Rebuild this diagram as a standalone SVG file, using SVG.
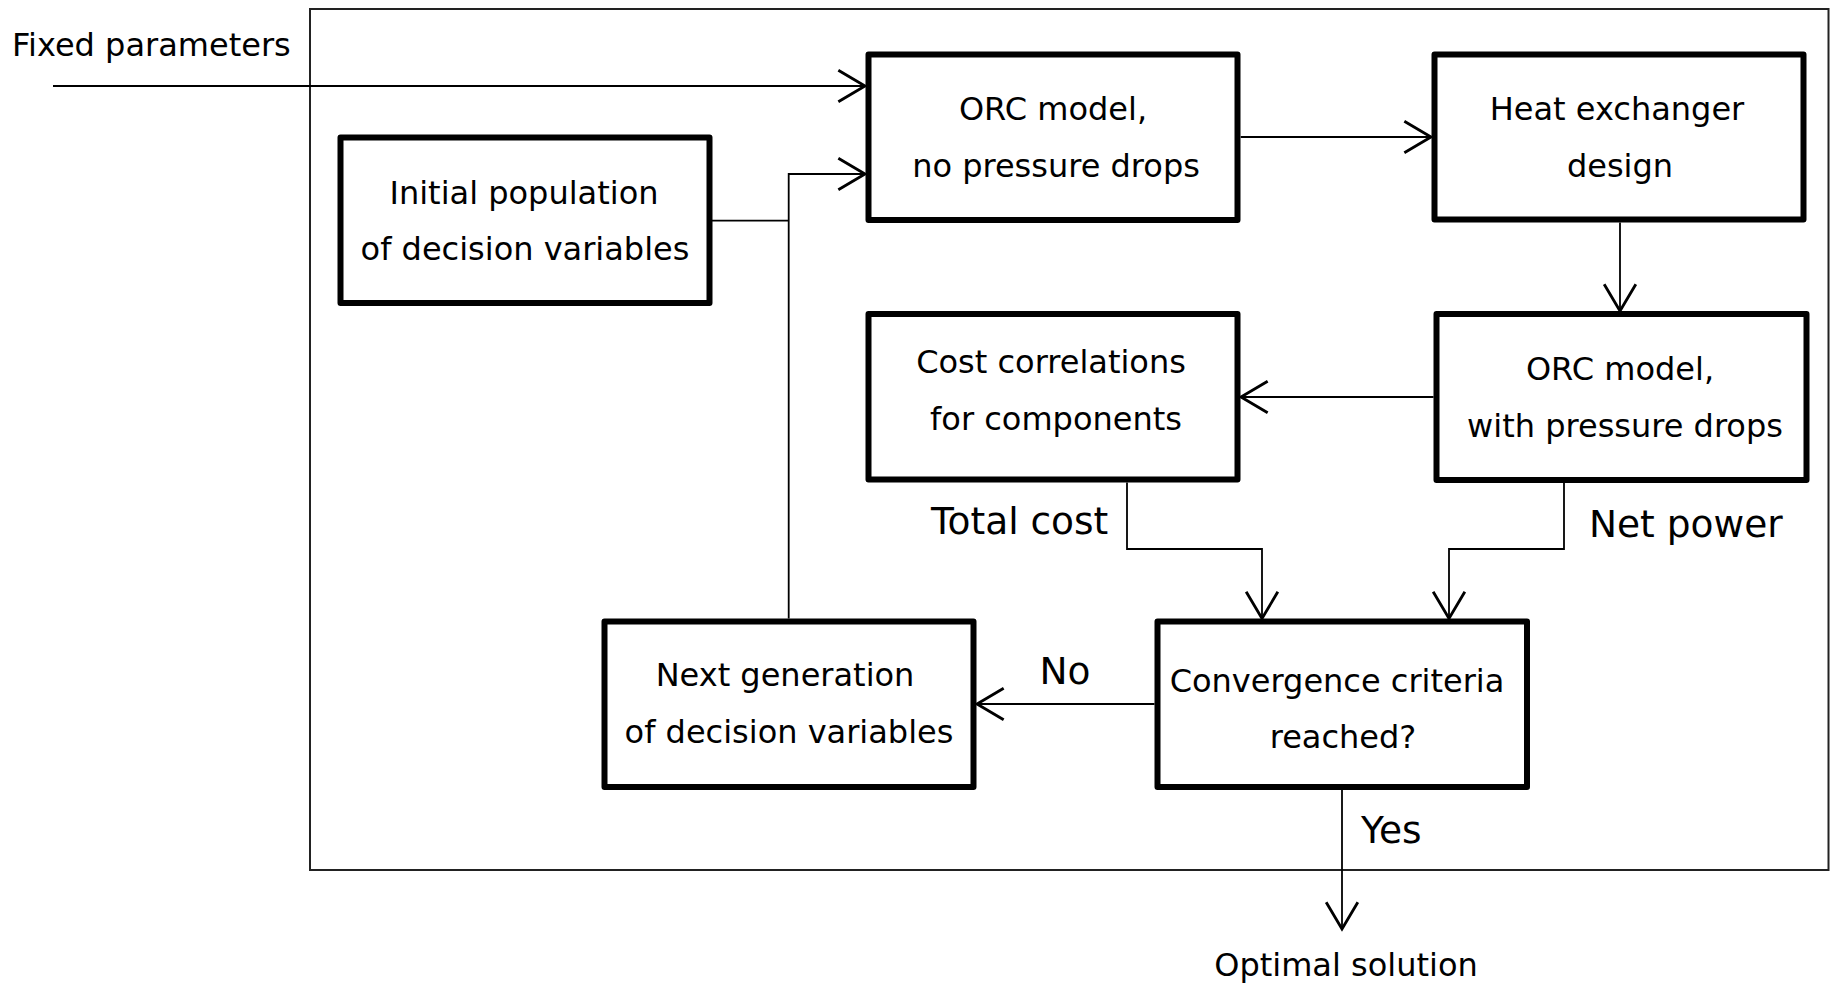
<svg xmlns="http://www.w3.org/2000/svg" width="1832" height="984" viewBox="0 0 1832 984">
<style>
.box{fill:#fff;stroke:#000;stroke-width:6;stroke-linejoin:round}
.t{font-family:"DejaVu Sans",Verdana,sans-serif;font-size:32px;fill:#000;text-anchor:middle}
.lbl{font-family:"DejaVu Sans",Verdana,sans-serif;font-size:37.5px;fill:#000}
.c{fill:none;stroke:#000;stroke-width:1.8}
</style>
<defs>
<marker id="arr" markerUnits="userSpaceOnUse" markerWidth="40" markerHeight="40" viewBox="-20 -12 22 24" refX="0" refY="0" orient="auto">
<path d="M-16,-9.5 L0,0 L-16,9.5" fill="none" stroke="#000" stroke-width="1.7"/>
</marker>
</defs>
<rect width="1832" height="984" fill="#fff"/>
<rect id="frame" x="310" y="9" width="1518.5" height="861" fill="none" stroke="#222" stroke-width="2"/>
<g id="connectors">
<path class="c" d="M53 86 H865" marker-end="url(#arr)"/>
<path class="c" d="M712 220.7 H788.7"/>
<path class="c" d="M788.7 618.5 V174 H865" marker-end="url(#arr)"/>
<path class="c" d="M1240.7 137 H1431" marker-end="url(#arr)"/>
<path class="c" d="M1620 222.5 V311" marker-end="url(#arr)"/>
<path class="c" d="M1433.5 397 H1241" marker-end="url(#arr)"/>
<path class="c" d="M1127 482.5 V549 H1262 V618.5" marker-end="url(#arr)"/>
<path class="c" d="M1564 483 V549 H1449 V618.5" marker-end="url(#arr)"/>
<path class="c" d="M1154.5 704 H977" marker-end="url(#arr)"/>
<path class="c" d="M1342 790 V929" marker-end="url(#arr)"/>
</g>
<g id="labels">
<text class="t" x="12" y="56" style="text-anchor:start">Fixed parameters</text>
<text class="lbl" x="931" y="534">Total cost</text>
<text class="lbl" x="1589" y="537">Net power</text>
<text class="lbl" x="1065" y="684" style="text-anchor:middle">No</text>
<text class="lbl" x="1361" y="843">Yes</text>
<text class="t" x="1346" y="976">Optimal solution</text>
</g>
<g id="init">
<rect class="box" x="340.5" y="137.5" width="369" height="165.5"/>
<text class="t" x="524" y="204">Initial population</text>
<text class="t" x="525" y="260">of decision variables</text>
</g>
<g id="orc1">
<rect class="box" x="868.5" y="54.5" width="369" height="165.5"/>
<text class="t" x="1053" y="120">ORC model,</text>
<text class="t" x="1056" y="177">no pressure drops</text>
</g>
<g id="hx">
<rect class="box" x="1434.5" y="54.5" width="369" height="165"/>
<text class="t" x="1617" y="120">Heat exchanger</text>
<text class="t" x="1620" y="177">design</text>
</g>
<g id="orc2">
<rect class="box" x="1436.5" y="314" width="370" height="166"/>
<text class="t" x="1620" y="380">ORC model,</text>
<text class="t" x="1625" y="437">with pressure drops</text>
</g>
<g id="cost">
<rect class="box" x="868.5" y="314" width="369" height="165.5"/>
<text class="t" x="1051" y="373">Cost correlations</text>
<text class="t" x="1056" y="430">for components</text>
</g>
<g id="conv">
<rect class="box" x="1157.5" y="621.5" width="369.5" height="165.5"/>
<text class="t" x="1337" y="692">Convergence criteria</text>
<text class="t" x="1343" y="748">reached?</text>
</g>
<g id="next">
<rect class="box" x="604.5" y="621.5" width="369" height="165.5"/>
<text class="t" x="785" y="686">Next generation</text>
<text class="t" x="789" y="743">of decision variables</text>
</g>
</svg>
